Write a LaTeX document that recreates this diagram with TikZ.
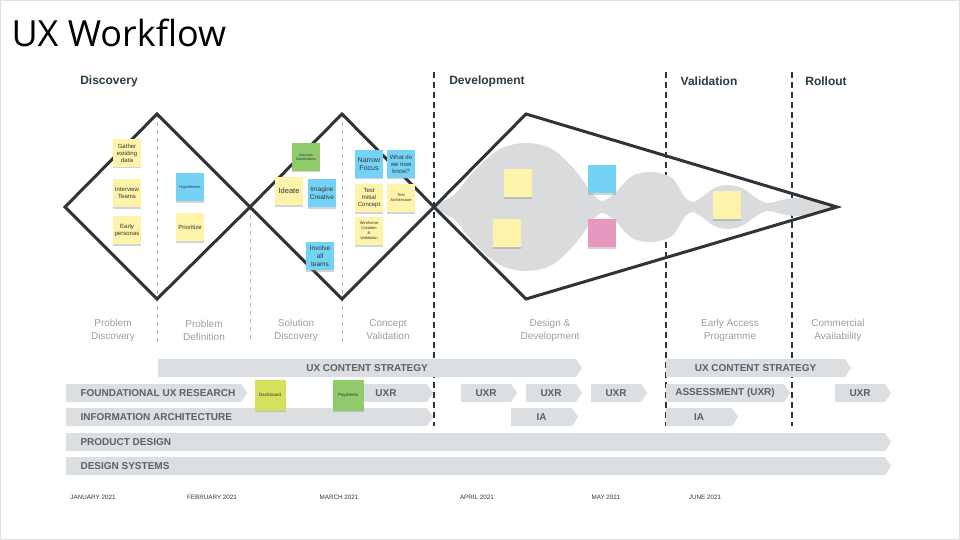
\documentclass[tikz,border=0pt]{standalone}
\usepackage{fontspec}
\setmainfont{Liberation Sans}
\newfontfamily\titlefont{Open Sans}
\usepackage{xcolor}
\usetikzlibrary{shapes.symbols,shadows}

\definecolor{ink}{HTML}{2F3439}
\definecolor{barg}{HTML}{DCDFE2}
\definecolor{bartxt}{HTML}{5B6166}
\definecolor{subg}{HTML}{9A9EA2}
\definecolor{headc}{HTML}{2A3B45}
\definecolor{noteY}{HTML}{FDF3A9}
\definecolor{noteB}{HTML}{74D3F5}
\definecolor{noteG}{HTML}{8FCB6B}
\definecolor{noteP}{HTML}{E897BE}
\definecolor{noteL}{HTML}{D4E05E}
\definecolor{blobg}{HTML}{D9DBDD}

\begin{document}
\begin{tikzpicture}[x=1pt,y=-1pt,every node/.style={font=\fontsize{10}{12}\selectfont},
    frame/.style={ink,line width=3pt,line join=miter},
    phase/.style={font=\bfseries\fontsize{12}{14}\selectfont,text=headc},
    stage/.style={align=center,text=subg,font=\fontsize{10}{13}\selectfont},
    gate/.style={ink,line width=2pt,dash pattern=on 6pt off 4pt},
    split/.style={black!30,line width=1pt,dash pattern=on 4pt off 4pt},
    note/.style={minimum size=28pt,inner sep=1pt,align=center,text=black!80,
      font=\fontsize{6}{7}\selectfont,drop shadow={shadow xshift=0pt,shadow yshift=-1.5pt,opacity=.35}},
    track/.style={signal,signal to=east,signal pointer angle=110,fill=barg,minimum height=18pt,
      inner sep=0pt,anchor=west,text=bartxt,font=\bfseries\fontsize{10}{12}\selectfont},
    tracklabel/.style={anchor=west,xshift=11pt,text=bartxt,font=\bfseries\fontsize{10}{12}\selectfont},
    month/.style={font=\fontsize{6.3}{7}\selectfont,text=black!80}]
  \useasboundingbox (0,0) rectangle (960,540);
  \draw[black!12] (0.5,0.5) rectangle (959.5,539.5);

  % title and phases
  \node[anchor=west,font=\titlefont\fontsize{36}{40}\selectfont] (title) at (8,33) {UX Workflow};
  \node[phase] (disc) at (109,81) {Discovery};
  \node[phase] (dev) at (487,81) {Development};
  \node[phase] (val) at (709,81) {Validation};
  \node[phase] (roll) at (826,81) {Rollout};

  % phase gates
  \draw[gate] (434,72) -- (434,426);
  \draw[gate] (666,72) -- (666,426);
  \draw[gate] (792,72) -- (792,426);
  \draw[split] (157,114) -- (157,343);
  \draw[split] (250,207) -- (250,343);
  \draw[split] (342,114) -- (342,343);

  % development blob
  \fill[blobg] plot[smooth cycle,tension=0.55] coordinates {(436,207) (455,194) (475,170) (500,149) (526,143)
    (552,149) (575,170) (592,193) (603,201) (616,192) (632,176) (652,172) (672,178) (684,196) (692,202)
    (702,197) (714,188) (727,185) (742,188) (756,198) (768,203) (782,200) (797,198) (815,201) (836,207)
    (815,213) (797,216) (782,214) (768,211) (756,216) (742,226) (727,229) (714,226) (702,217) (692,212)
    (684,218) (672,236) (652,242) (632,238) (616,222) (603,213) (592,221) (575,244) (552,265) (526,271)
    (500,265) (475,244) (455,220)};

  % double diamond
  \draw[frame] (65,207) -- (157,114) -- (250,207) -- (157,299) -- cycle;
  \draw[frame] (250,207) -- (342,114) -- (434,207) -- (342,299) -- cycle;
  \draw[frame] (434,207) -- (526,114) -- (837,207) -- (526,299) -- cycle;

  % sticky notes
  \node[note,fill=noteY] (gather) at (127,153) {Gather\\existing\\data};
  \node[note,fill=noteY] (teams) at (127,193) {Interview\\Teams};
  \node[note,fill=noteY] (personas) at (127,230) {Early\\personas};
  \node[note,fill=noteB,font=\fontsize{4}{5}\selectfont] (hypo) at (190,187) {Hypotheses};
  \node[note,fill=noteY] (prio) at (190,227) {Prioritize};
  \node[note,fill=noteG,font=\fontsize{3.5}{4.5}\selectfont] (stake) at (306,157) {Interview\\Stakeholders};
  \node[note,fill=noteY,font=\fontsize{7.5}{9}\selectfont] (ideate) at (289,191) {Ideate};
  \node[note,fill=noteB,font=\fontsize{6.5}{8}\selectfont] (imagine) at (322,193) {Imagine\\Creative};
  \node[note,fill=noteB,font=\fontsize{6.5}{8}\selectfont] (involve) at (320,256) {Involve\\all\\teams};
  \node[note,fill=noteB,font=\fontsize{7}{8.5}\selectfont] (narrow) at (369,164) {Narrow\\Focus};
  \node[note,fill=noteB] (know) at (401,164) {What do\\we now\\know?};
  \node[note,fill=noteY] (test) at (369,198) {Test\\Initial\\Concept};
  \node[note,fill=noteY,font=\fontsize{4}{5}\selectfont] (arch) at (401,198) {Test\\Architecture};
  \node[note,fill=noteY,font=\fontsize{4}{5}\selectfont] (wire) at (369,231) {Wireframe\\Creation\\\&\\Validation};
  \node[note,fill=noteY] (d1) at (518,183) {};
  \node[note,fill=noteY] (d2) at (507,233) {};
  \node[note,fill=noteB] (d3) at (602,179) {};
  \node[note,fill=noteP] (d4) at (602,233) {};
  \node[note,fill=noteY] (v1) at (727,205) {};

  % stages
  \node[stage] (s1) at (113,330) {Problem\\Discovery};
  \node[stage] (s2) at (204,330) {Problem\\Definition};
  \node[stage] (s3) at (296,330) {Solution\\Discovery};
  \node[stage] (s4) at (388,330) {Concept\\Validation};
  \node[stage] (s5) at (550,330) {Design \&\\Development};
  \node[stage] (s6) at (730,330) {Early Access\\Programme};
  \node[stage] (s7) at (838,330) {Commercial\\Availability};

  % tracks
  \node[track,minimum width=424pt] (ucs1) at (158,368) {UX CONTENT STRATEGY};
  \node[track,minimum width=185pt] (ucs2) at (666,368) {UX CONTENT STRATEGY};
  \node[track,minimum width=181pt,label={[tracklabel]west:FOUNDATIONAL UX RESEARCH}] (fur) at (66,393) {};
  \node[track,minimum width=93pt] (uxr1) at (340,393) {\hspace*{5pt}UXR};
  \node[track,minimum width=56pt] (uxr2) at (461,393) {UXR};
  \node[track,minimum width=56pt] (uxr3) at (526,393) {UXR};
  \node[track,minimum width=56pt] (uxr4) at (591,393) {UXR};
  \node[track,minimum width=124pt] (assess) at (666,393) {ASSESSMENT (UXR)};
  \node[track,minimum width=56pt] (uxr5) at (835,393) {UXR};
  \node[track,minimum width=367pt,label={[tracklabel]west:INFORMATION ARCHITECTURE}] (ia) at (66,417) {};
  \node[track,minimum width=67pt] (ia2) at (511,417) {IA};
  \node[track,minimum width=72pt] (ia3) at (666,417) {IA};
  \node[track,minimum width=825pt,label={[tracklabel]west:PRODUCT DESIGN}] (pd) at (66,442) {};
  \node[track,minimum width=825pt,label={[tracklabel]west:DESIGN SYSTEMS}] (ds) at (66,466) {};
  \node[note,fill=noteL,minimum size=31pt,font=\fontsize{4.5}{5}\selectfont] (dash) at (270,395) {Dashboard};
  \node[note,fill=noteG,minimum size=31pt,font=\fontsize{4.5}{5}\selectfont] (pay) at (348,395) {Payments};

  % months
  \node[month] (jan) at (93,497) {JANUARY 2021};
  \node[month] (feb) at (212,497) {FEBRUARY 2021};
  \node[month] (mar) at (339,497) {MARCH 2021};
  \node[month] (apr) at (477,497) {APRIL 2021};
  \node[month] (may) at (606,497) {MAY 2021};
  \node[month] (jun) at (705,497) {JUNE 2021};
\end{tikzpicture}
\end{document}
